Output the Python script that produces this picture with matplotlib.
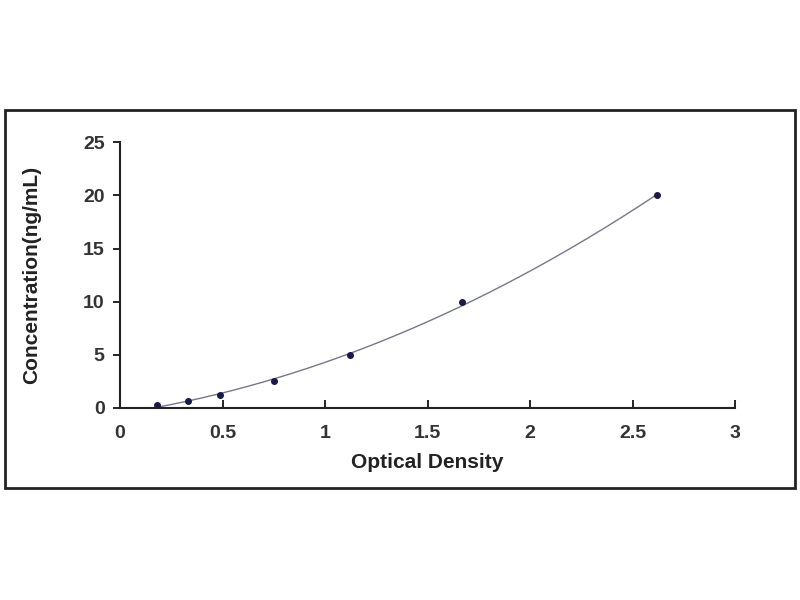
import numpy as np
import matplotlib.pyplot as plt
from matplotlib.patches import Rectangle

# standard curve points
od = [0.18, 0.33, 0.49, 0.75, 1.12, 1.67, 2.62]
conc = [0.312, 0.625, 1.25, 2.5, 5, 10, 20]
x_ticks = [0, 0.5, 1, 1.5, 2, 2.5, 3]
x_labels = ['0', '0.5', '1', '1.5', '2', '2.5', '3']
y_ticks = [0, 5, 10, 15, 20, 25]

plt.rcParams['font.family'] = ['Liberation Sans', 'DejaVu Sans']

fig = plt.figure(figsize=(8, 6), dpi=100)
# outer frame
fig.patches.append(Rectangle((0.006, 0.187), 0.988, 0.63, transform=fig.transFigure,
                             fill=False, edgecolor='#222222', linewidth=2))

ax = fig.add_axes([0.15, 0.32, 0.769, 0.443])

# fitted curve (quadratic through the points)
coef = np.polyfit(od, conc, 2)
xs = np.linspace(min(od), max(od), 200)
ax.plot(xs, np.polyval(coef, xs), color='#777788', linewidth=1)
ax.plot(od, conc, 'o', color='#1a1a4a', markersize=4)

ax.set_xlim(0, 3)
ax.set_ylim(0, 25)
ax.set_xticks(x_ticks)
ax.set_xticklabels(x_labels)
ax.set_yticks(y_ticks)
for s in ['top', 'right']:
    ax.spines[s].set_visible(False)
for s in ['left', 'bottom']:
    ax.spines[s].set_linewidth(1.5)
    ax.spines[s].set_color('#222222')
ax.tick_params(axis='x', direction='in', length=6, width=1.2, labelsize=14, pad=12)
ax.tick_params(axis='y', direction='out', length=5, width=1.2, labelsize=14, pad=6)
for lab in ax.get_xticklabels() + ax.get_yticklabels():
    lab.set_fontweight('bold')
    lab.set_color('#333333')

ax.set_xlabel('Optical Density', fontsize=15, fontweight='bold', labelpad=8, color='#222222')
ax.set_ylabel('Concentration(ng/mL)', fontsize=15, fontweight='bold', color='#222222')
ax.yaxis.set_label_coords(-0.128, 0.5)

fig.savefig('out.png', dpi=100)
